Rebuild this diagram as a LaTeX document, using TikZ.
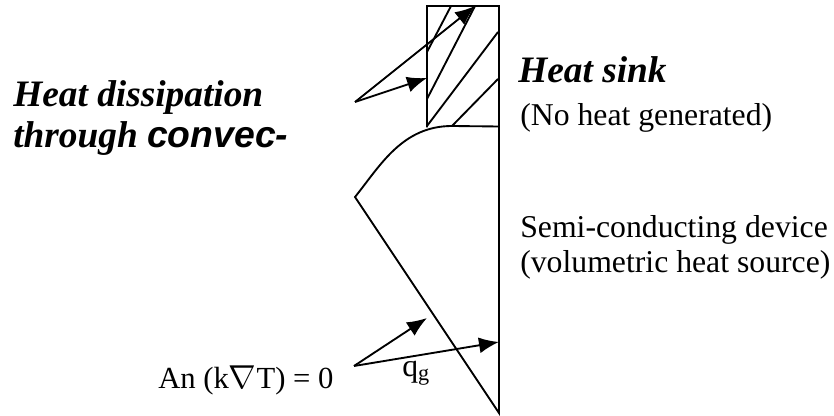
\documentclass[tikz,border=0pt]{standalone}
\usepackage{fontspec}
\setmainfont{Liberation Serif}
\newfontfamily\arialfont{Liberation Sans}
\usetikzlibrary{arrows.meta}
\begin{document}
\begin{tikzpicture}[x=0.75pt,y=-0.75pt]
\tikzstyle{trait} = [black,line width=1.4pt];
\tikzstyle{fleche} = [black,line width=1.4pt,-{Latex[length=15pt,width=12pt]}];
\tikzstyle{texte} = [inner sep=0pt,anchor=base west,font=\fontsize{23.8}{24}\selectfont];
\tikzstyle{titre} = [inner sep=0pt,anchor=base west,font=\fontsize{28}{28}\selectfont\bfseries\itshape];

\useasboundingbox (0,0) rectangle (834,416);

% corps
\draw[trait] (427,127.5) -- (427,6) -- (499,6) -- (499,413) -- (355,197) .. controls (380,166) and (402,126) .. (452,126) -- (499,126.5);

% hachures
\foreach \xa/\ya/\xb/\yb in {427/52/451/6,427/99/475/6,427/126/498/32,452/126/498/79}{
	\draw[trait] (\xa,\ya) -- (\xb,\yb);
}

% fleches
\coordinate (conv) at (355,102);
\coordinate (convA) at (475,6);
\coordinate (convB) at (427,78);
\coordinate (cond) at (354,366);
\coordinate (condA) at (427,318);
\coordinate (condB) at (499,342);
\draw[fleche] (conv) -- (convA);
\draw[fleche] (conv) -- (convB);
\draw[fleche] (cond) -- (condA);
\draw[fleche] (cond) -- (condB);

% textes
\node[titre] (dissip) at (13,107) {Heat dissipation};
\node[titre] (through) at (13,148) {through {\arialfont convec-}};
\node[titre] (sink) at (518,83) {Heat sink};
\node[texte] (nogen) at (520,126) {(No heat generated)};
\node[texte] (semi) at (520,238) {Semi-conducting device};
\node[texte] (volum) at (520,273) {(volumetric heat source)};
\node[texte,font=\fontsize{23}{24}\selectfont] (bc) at (158,388) {An (k$\nabla$T) = 0};
\node[texte] (qg) at (402,376) {q\textsubscript{g}};

\end{tikzpicture}
\end{document}
